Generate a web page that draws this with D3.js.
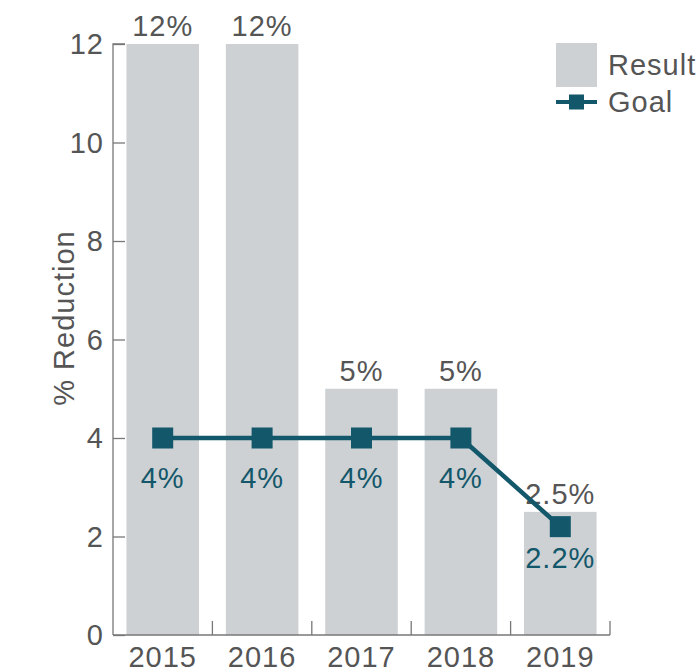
<!DOCTYPE html>
<html>
<head>
<meta charset="utf-8">
<script src="https://cdn.jsdelivr.net/npm/d3@7"></script>
<style>
  html, body { margin: 0; padding: 0; background: #fff; }
  svg text { font-family: "Liberation Sans", Arial, Helvetica, sans-serif; }
</style>
</head>
<body>
<svg id="chart" width="699" height="669"></svg>
<script>
const years = ["2015", "2016", "2017", "2018", "2019"];
const resultValues = [12, 12, 5, 5, 2.5];
const resultLabels = ["12%", "12%", "5%", "5%", "2.5%"];
const goalValues = [4, 4, 4, 4, 2.2];
const goalLabels = ["4%", "4%", "4%", "4%", "2.2%"];
const yTicks = [0, 2, 4, 6, 8, 10, 12];
const legendLabels = ["Result", "Goal"];

const barColor = "#cdd1d4";
const goalColor = "#13576a";
const textColor = "#555555";
const axisColor = "#777777";
const fontSize = 29;
const letterSp = "1px";

const svg = d3.select("#chart");
const pLeft = 113, pRight = 610, pTop = 44, pBottom = 635;

const x = d3.scaleBand().domain(years).range([pLeft, pRight]).paddingInner(0.27).paddingOuter(0.135);
const y = d3.scaleLinear().domain([0, 12]).range([pBottom, pTop]);

// bars
svg.selectAll("rect.bar").data(years).enter().append("rect")
  .attr("class", "bar")
  .attr("x", d => x(d))
  .attr("width", x.bandwidth())
  .attr("y", (d, i) => y(resultValues[i]))
  .attr("height", (d, i) => y(0) - y(resultValues[i]))
  .attr("fill", barColor);

// y axis
const yAxis = d3.axisRight(y).tickValues(yTicks).tickSize(12).tickFormat("");
const yg = svg.append("g").attr("transform", `translate(${pLeft},0)`).call(yAxis);
yg.select(".domain").attr("stroke", axisColor).attr("stroke-width", 1.3).attr("d", `M12,${pTop}H0V${pBottom}`);
yg.selectAll(".tick line").attr("stroke", axisColor).attr("stroke-width", 1.3);

svg.selectAll("text.ylab").data(yTicks).enter().append("text")
  .attr("class", "ylab")
  .attr("x", 104)
  .attr("y", d => y(d))
  .attr("dy", "0.36em")
  .attr("text-anchor", "end")
  .attr("font-size", fontSize)
  .attr("letter-spacing", letterSp)
  .attr("fill", textColor)
  .text(d => d);

// x axis: baseline + ticks at band boundaries
const step = x.step();
const boundaries = years.map((d, i) => pLeft + step * (i + 1));
svg.append("line")
  .attr("x1", pLeft).attr("x2", pRight)
  .attr("y1", pBottom).attr("y2", pBottom)
  .attr("stroke", axisColor).attr("stroke-width", 1.3);
svg.selectAll("line.xtick").data(boundaries).enter().append("line")
  .attr("class", "xtick")
  .attr("x1", d => d).attr("x2", d => d)
  .attr("y1", pBottom).attr("y2", pBottom - 14)
  .attr("stroke", axisColor).attr("stroke-width", 1.3);

svg.selectAll("text.xlab").data(years).enter().append("text")
  .attr("class", "xlab")
  .attr("x", d => x(d) + x.bandwidth() / 2)
  .attr("y", 667)
  .attr("text-anchor", "middle")
  .attr("font-size", fontSize)
  .attr("letter-spacing", letterSp)
  .attr("fill", textColor)
  .text(d => d);

// bar value labels
svg.selectAll("text.rlab").data(years).enter().append("text")
  .attr("class", "rlab")
  .attr("x", d => x(d) + x.bandwidth() / 2)
  .attr("y", (d, i) => y(resultValues[i]) - 8)
  .attr("text-anchor", "middle")
  .attr("font-size", fontSize)
  .attr("letter-spacing", letterSp)
  .attr("fill", textColor)
  .text((d, i) => resultLabels[i]);

// goal line
const line = d3.line()
  .x((d, i) => x(years[i]) + x.bandwidth() / 2)
  .y(d => y(d));
svg.append("path")
  .datum(goalValues)
  .attr("d", line)
  .attr("fill", "none")
  .attr("stroke", goalColor)
  .attr("stroke-width", 4.5);

const ms = 21;
svg.selectAll("rect.marker").data(goalValues).enter().append("rect")
  .attr("class", "marker")
  .attr("x", (d, i) => x(years[i]) + x.bandwidth() / 2 - ms / 2)
  .attr("y", d => y(d) - ms / 2)
  .attr("width", ms).attr("height", ms)
  .attr("fill", goalColor);

svg.selectAll("text.glab").data(goalValues).enter().append("text")
  .attr("class", "glab")
  .attr("x", (d, i) => x(years[i]) + x.bandwidth() / 2)
  .attr("y", (d, i) => y(d) + (i === goalValues.length - 1 ? 41 : 50))
  .attr("text-anchor", "middle")
  .attr("font-size", fontSize)
  .attr("letter-spacing", letterSp)
  .attr("fill", goalColor)
  .text((d, i) => goalLabels[i]);

// y axis title
svg.append("text")
  .attr("transform", `translate(74,318) rotate(-90)`)
  .attr("text-anchor", "middle")
  .attr("font-size", fontSize)
  .attr("letter-spacing", letterSp)
  .attr("fill", textColor)
  .text("% Reduction");

// legend
const lg = svg.append("g");
lg.append("rect").attr("x", 556).attr("y", 43).attr("width", 41).attr("height", 44).attr("fill", barColor);
lg.append("line").attr("x1", 556).attr("x2", 597).attr("y1", 102).attr("y2", 102)
  .attr("stroke", goalColor).attr("stroke-width", 4);
lg.append("rect").attr("x", 569).attr("y", 94.5).attr("width", 15).attr("height", 15).attr("fill", goalColor);
lg.selectAll("text").data(legendLabels).enter().append("text")
  .attr("x", 608)
  .attr("y", (d, i) => i === 0 ? 75 : 112)
  .attr("font-size", fontSize)
  .attr("letter-spacing", letterSp)
  .attr("fill", textColor)
  .text(d => d);
</script>
</body>
</html>
